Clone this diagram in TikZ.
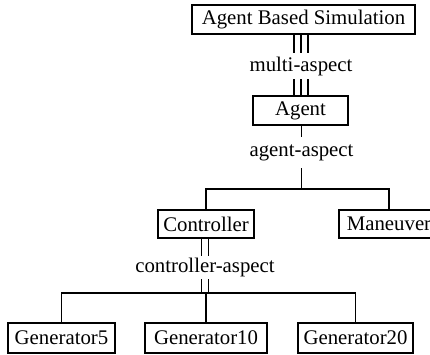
\documentclass[tikz,border=0pt]{standalone}
\usepackage{fontspec}
\setmainfont{Liberation Serif}
\usetikzlibrary{calc}
\begin{document}
\begin{tikzpicture}[x=1pt, y=-1pt,
  every node/.style={font=\fontsize{20.8}{24}\selectfont},
  box/.style={draw, line width=1.4pt, inner sep=0pt, minimum height=29pt},
  lbl/.style={inner sep=0pt},
  wire/.style={line width=1.5pt}]
  \path[use as bounding box, clip] (0,0) rectangle (430,354);

  % boxes
  \node[box, minimum width=223pt] (sim)  at (303.5,19.5) {Agent Based Simulation};
  \node[box, minimum width=95pt]  (agt)  at (300.5,110.5) {Agent};
  \node[box, minimum width=96pt, minimum height=28pt] (ctrl) at (206,224) {Controller};
  \node[box, minimum width=100pt, minimum height=28pt] (man)  at (389,224) {Maneuver};
  \node[box, minimum width=107pt, minimum height=30pt] (g5)  at (61.5,338) {Generator5};
  \node[box, minimum width=122pt, minimum height=30pt] (g10) at (206,338) {Generator10};
  \node[box, minimum width=115pt, minimum height=30pt] (g20) at (355.5,338) {Generator20};

  % aspect labels
  \node[lbl, minimum height=26pt] (ma) at (301,66) {multi-aspect};
  \node[lbl, minimum height=31pt] (aa) at (301.5,152.5) {agent-aspect};
  \node[lbl, minimum height=23pt] (ca) at (205,267.5) {controller-aspect};

  % branching points
  \coordinate (ab) at (301.5,189);
  \coordinate (cb) at (205,293);

  % multi-aspect: triple lines
  \foreach \d in {-7,0,7} {
    \draw[wire] ($(ma.north |- sim.south)+(\d,0)$) -- ($(ma.north)+(\d,0)$);
    \draw[wire] ($(ma.south)+(\d,0)$) -- ($(ma.south |- agt.north)+(\d,0)$);
  }

  % agent-aspect: single line and branches
  \draw[wire] (aa.north |- agt.south) -- (aa.north);
  \draw[wire] (aa.south) -- (ab);
  \draw[wire] (ctrl.north) |- (ab) -| (man.north);

  % controller-aspect: double lines and branches
  \foreach \d in {-3.5,3.5} {
    \draw[wire] ($(ca.north |- ctrl.south)+(\d,0)$) -- ($(ca.north)+(\d,0)$);
    \draw[wire] ($(ca.south)+(\d,0)$) -- ($(cb)+(\d,0)$);
  }
  \draw[wire] (g5.north) |- (cb) -| (g20.north);
  \draw[wire] (g10.north |- cb) -- (g10.north);
\end{tikzpicture}
\end{document}
